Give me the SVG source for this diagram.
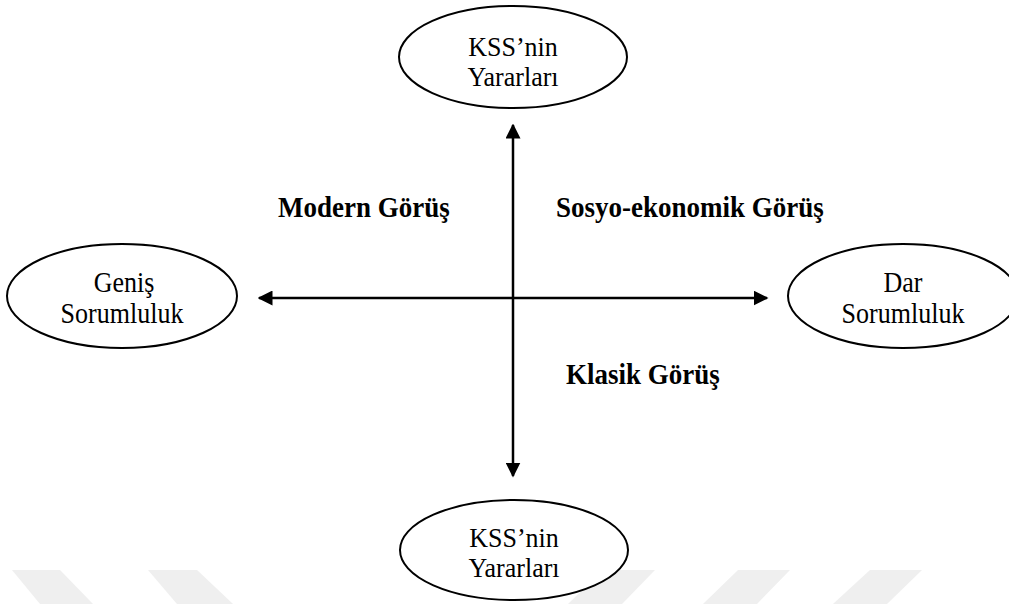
<svg xmlns="http://www.w3.org/2000/svg" width="1009" height="604" viewBox="0 0 1009 604">
<style>
.node ellipse{fill:#fff;stroke:#000;stroke-width:2}
.t{font-family:"Liberation Serif","Times New Roman",serif;font-size:26px;fill:#000;text-anchor:middle}
.b{font-family:"Liberation Serif","Times New Roman",serif;font-size:27px;font-weight:bold;fill:#000}
.edge{stroke:#000;stroke-width:2.5;fill:none}
.wm{fill:#efefef}
</style>
<defs>
<marker id="ah" viewBox="0 0 10 10" refX="9" refY="5" markerWidth="6" markerHeight="6" orient="auto-start-reverse" markerUnits="strokeWidth">
<path d="M0,0 L10,5 L0,10 Z" fill="#000"/>
</marker>
</defs>
<rect width="1009" height="604" fill="#fff"/>
<g id="watermark">
<polygon class="wm" points="12,570 60,570 93,604 40,604"/>
<polygon class="wm" points="148,570 197,570 233,604 177,604"/>
<polygon class="wm" points="603,570 655,570 622,604 568,604"/>
<polygon class="wm" points="738,570 790,570 757,604 703,604"/>
<polygon class="wm" points="870,570 922,570 887,604 833,604"/>
</g>
<g id="connectors">
<line class="edge" x1="513" y1="298" x2="513" y2="125" marker-end="url(#ah)"/>
<line class="edge" x1="513" y1="298" x2="513" y2="476" marker-end="url(#ah)"/>
<line class="edge" x1="513" y1="298" x2="259" y2="298" marker-end="url(#ah)"/>
<line class="edge" x1="513" y1="298" x2="767" y2="298" marker-end="url(#ah)"/>
</g>
<g id="node-top" class="node">
<ellipse cx="513" cy="57" rx="114" ry="51"/>
<text class="t" transform="translate(513,56) scale(1,1.08)">KSS’nin</text>
<text class="t" transform="translate(513,86) scale(1,1.08)">Yararları</text>
</g>
<g id="node-bottom" class="node">
<ellipse cx="514" cy="550" rx="114" ry="50"/>
<text class="t" transform="translate(514,547) scale(1,1.08)">KSS’nin</text>
<text class="t" transform="translate(514,577) scale(1,1.08)">Yararları</text>
</g>
<g id="node-left" class="node">
<ellipse cx="122" cy="296" rx="115" ry="52"/>
<text class="t" transform="translate(124,292) scale(1,1.1)">Geniş</text>
<text class="t" transform="translate(122,323) scale(1,1.1)">Sorumluluk</text>
</g>
<g id="node-right" class="node">
<ellipse cx="903" cy="296" rx="115" ry="52"/>
<text class="t" transform="translate(903,292) scale(1,1.1)">Dar</text>
<text class="t" transform="translate(903,323) scale(1,1.1)">Sorumluluk</text>
</g>
<g id="labels">
<text class="b" transform="translate(278,217) scale(1,1.1)">Modern Görüş</text>
<text class="b" transform="translate(556,217) scale(1,1.1)">Sosyo-ekonomik Görüş</text>
<text class="b" transform="translate(566,384) scale(1,1.1)">Klasik Görüş</text>
</g>
</svg>
